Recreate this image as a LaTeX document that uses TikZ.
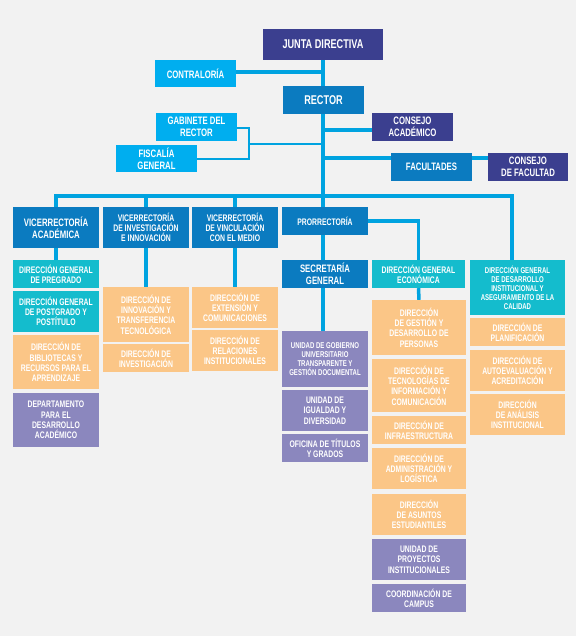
\documentclass[tikz,border=0pt]{standalone}
\usepackage{fontspec}
\newfontfamily\cond[FakeStretch=0.72]{Liberation Sans}
\definecolor{bg}{HTML}{F2F2F2}
\definecolor{indigo}{HTML}{3B3F8F}
\definecolor{cyanb}{HTML}{00AEEF}
\definecolor{blueb}{HTML}{0B7BC0}
\definecolor{teal}{HTML}{14BCCD}
\definecolor{orng}{HTML}{FBC687}
\definecolor{purp}{HTML}{8B87BE}
\definecolor{lnc}{HTML}{00A3E0}
\begin{document}
\begin{tikzpicture}[x=1pt,y=-1pt,
  box/.style={draw=none,inner sep=0pt,align=center,text=white,
    font=\cond\bfseries\fontsize{9.5}{10.3}\selectfont},
  big/.style={box,font=\cond\bfseries\fontsize{12.7}{13.5}\selectfont},
  med/.style={box,font=\cond\bfseries\fontsize{10.8}{11.6}\selectfont},
  sml/.style={box,font=\cond\bfseries\fontsize{8.4}{9}\selectfont},
  ln/.style={draw=lnc,line width=3.5pt},
  lnthin/.style={draw=lnc,line width=2.5pt}]
\fill[bg] (0,0) rectangle (576,636);
\useasboundingbox (0,0) rectangle (576,636);
\newcommand\bx[6]{\node[#1,minimum width=#4pt,minimum height=#5pt] (#2) at (#3) {#6};}
% top
\bx{big,fill=indigo}{junta}{323,44.5}{120}{31}{JUNTA DIRECTIVA}
\bx{med,fill=cyanb}{contra}{195.5,73.5}{81}{27}{CONTRALORÍA}
\bx{big,fill=blueb}{rector}{323.5,100}{81}{28}{RECTOR}
\bx{med,fill=cyanb}{gab}{196.5,127}{81}{28}{GABINETE DEL\\RECTOR}
\bx{med,fill=cyanb}{fis}{156.5,158.5}{81}{27}{FISCALÍA\\GENERAL}
\bx{med,fill=indigo}{conacad}{412.5,127}{81}{28}{CONSEJO\\ACADÉMICO}
\bx{med,fill=blueb}{fac}{431.5,167}{81}{28}{FACULTADES}
\bx{med,fill=indigo}{confac}{528,167}{80}{28}{CONSEJO\\DE FACULTAD}
% second level
\bx{med,fill=blueb}{va}{56,227.5}{86}{41}{VICERRECTORÍA\\ACADÉMICA}
\bx{box,fill=blueb}{vi}{146,227.5}{86}{41}{VICERRECTORÍA\\DE INVESTIGACIÓN\\E INNOVACIÓN}
\bx{box,fill=blueb}{vv}{235,227.5}{86}{41}{VICERRECTORÍA\\DE VINCULACIÓN\\CON EL MEDIO}
\bx{box,fill=blueb}{pro}{325,221}{86}{28}{PRORRECTORÍA}
\bx{med,fill=blueb}{sec}{325,274}{86}{28}{SECRETARÍA\\GENERAL}
\bx{box,fill=teal}{dge}{418.5,274}{93}{28}{DIRECCIÓN GENERAL\\ECONÓMICA}
\bx{sml,fill=teal}{dgd}{517.5,287.5}{95}{55}{DIRECCIÓN GENERAL\\DE DESARROLLO\\INSTITUCIONAL Y\\ASEGURAMIENTO DE LA\\CALIDAD}
% column VA
\bx{box,fill=teal}{pre}{56,274}{86}{28}{DIRECCIÓN GENERAL\\DE PREGRADO}
\bx{box,fill=teal}{post}{56,311.5}{86}{41}{DIRECCIÓN GENERAL\\DE POSTGRADO Y\\POSTÍTULO}
\bx{box,fill=orng}{bib}{56,362}{86}{54}{DIRECCIÓN DE\\BIBLIOTECAS Y\\RECURSOS PARA EL\\APRENDIZAJE}
\bx{box,fill=purp}{dep}{56,420}{86}{54}{DEPARTAMENTO\\PARA EL\\DESARROLLO\\ACADÉMICO}
% column VI
\bx{box,fill=orng}{inn}{146,314.5}{86}{55}{DIRECCIÓN DE\\INNOVACIÓN Y\\TRANSFERENCIA\\TECNOLÓGICA}
\bx{box,fill=orng}{inv}{146,358}{86}{28}{DIRECCIÓN DE\\INVESTIGACIÓN}
% column VV
\bx{box,fill=orng}{ext}{235,307.5}{86}{41}{DIRECCIÓN DE\\EXTENSIÓN Y\\COMUNICACIONES}
\bx{box,fill=orng}{rel}{235,350.5}{86}{41}{DIRECCIÓN DE\\RELACIONES\\INSTITUCIONALES}
% column SEC
\bx{sml,fill=purp}{ugob}{325,359}{86}{56}{UNIDAD DE GOBIERNO\\UNIVERSITARIO\\TRANSPARENTE Y\\GESTIÓN DOCUMENTAL}
\bx{box,fill=purp}{igual}{325,410.5}{86}{41}{UNIDAD DE\\IGUALDAD Y\\DIVERSIDAD}
\bx{box,fill=purp}{ofic}{325,448}{86}{28}{OFICINA DE TÍTULOS\\Y GRADOS}
% column DGE
\bx{box,fill=orng}{gest}{419,327.5}{94}{55}{DIRECCIÓN\\DE GESTIÓN Y\\DESARROLLO DE\\PERSONAS}
\bx{box,fill=orng}{tec}{419,385.5}{94}{53}{DIRECCIÓN DE\\TECNOLOGÍAS DE\\INFORMACIÓN Y\\COMUNICACIÓN}
\bx{box,fill=orng}{infra}{419,430}{94}{28}{DIRECCIÓN DE\\INFRAESTRUCTURA}
\bx{box,fill=orng}{adm}{419,468.5}{94}{41}{DIRECCIÓN DE\\ADMINISTRACIÓN Y\\LOGÍSTICA}
\bx{box,fill=orng}{asu}{419,514.5}{94}{41}{DIRECCIÓN\\DE ASUNTOS\\ESTUDIANTILES}
\bx{box,fill=purp}{proy}{419,559.5}{94}{41}{UNIDAD DE\\PROYECTOS\\INSTITUCIONALES}
\bx{box,fill=purp}{coord}{419,598}{94}{28}{COORDINACIÓN DE\\CAMPUS}
% column DGD
\bx{box,fill=orng}{plan}{517.5,332}{95}{28}{DIRECCIÓN DE\\PLANIFICACIÓN}
\bx{box,fill=orng}{auto}{517.5,370.5}{95}{41}{DIRECCIÓN DE\\AUTOEVALUACIÓN Y\\ACREDITACIÓN}
\bx{box,fill=orng}{ana}{517.5,414.5}{95}{41}{DIRECCIÓN\\DE ANÁLISIS\\INSTITUCIONAL}
% coordinates
\coordinate (mv) at (323,0);
\coordinate (bus) at (0,196);
\coordinate (busR) at (512,196);
\coordinate (facin) at (323,158);
\coordinate (cain) at (323,130);
\coordinate (brT) at (249,128);
\coordinate (brB) at (249,159);
\coordinate (brM) at (249,144);
% connectors
\draw[ln] (junta.south -| mv) -- (rector.north -| mv);
\draw[ln] (contra.east |- 0,72) -- (mv |- 0,72);
\draw[ln] (rector.south -| mv) -- (pro.north -| mv);
\draw[ln] (pro.south -| mv) -- (sec.north -| mv);
\draw[ln] (sec.south -| mv) -- (ugob.north -| mv);
\draw[ln] (cain) -- (cain -| conacad.west);
\draw[ln] (facin) -- (facin -| fac.west);
\draw[ln] (fac.east |- facin) -- (facin -| confac.west);
\draw[lnthin] (gab.east |- brT) -- (brT) -- (brB) -- (fis.east |- brB);
\draw[lnthin] (brM) -- (mv |- brM);
\draw[ln] (va.north) -- (va.north |- bus) -- (busR) -- (busR |- dgd.north);
\draw[ln] (vi.north) -- (vi.north |- bus);
\draw[ln] (vv.north) -- (vv.north |- bus);
\draw[ln] (va.south) -- (pre.north);
\draw[ln] (vi.south) -- (inn.north);
\draw[ln] (vv.south) -- (ext.north);
\draw[ln] (pro.east) -| (dge.north);
\draw[ln] (dge.south) -- (gest.north);
\end{tikzpicture}
\end{document}
